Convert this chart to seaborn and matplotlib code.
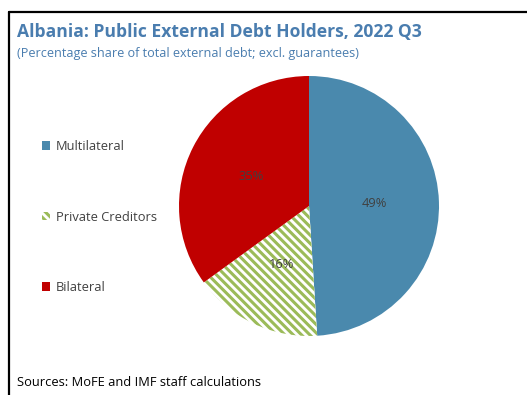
"""Albania public external debt holders, 2022 Q3 - pie chart."""

import matplotlib
matplotlib.use("Agg")
import matplotlib.pyplot as plt
import seaborn as sns
from matplotlib.lines import Line2D

# data
holders = ["Multilateral", "Private Creditors", "Bilateral"]
shares = [49, 16, 35]
colors = ["#4A89AD", "#FFFFFF", "#C00000"]

title = "Albania: Public External Debt Holders, 2022 Q3"
subtitle = "(Percentage share of total external debt; excl. guarantees)"
source = "Sources: MoFE and IMF staff calculations"

sns.set_theme(style="white")
plt.rcParams["font.family"] = ["Open Sans", "DejaVu Sans"]
plt.rcParams["hatch.linewidth"] = 2.2

W, H = 527, 395
fig = plt.figure(figsize=(W / 100, H / 100), dpi=100)
fig.patch.set_facecolor("white")

# pie centred at (309, 206) px with radius 130 px
cx, cy, r = 309, 206, 130
ax = fig.add_axes([(cx - r) / W, (H - cy - r) / H, 2 * r / W, 2 * r / H])
wedges, _, autotexts = ax.pie(
    shares, colors=colors, startangle=90, counterclock=False,
    autopct="%1.0f%%", pctdistance=0.5,
    wedgeprops=dict(linewidth=0),
    textprops=dict(color="#404040", fontsize=9.3),
)
wedges[1].set_hatch(r"\\\\")
wedges[1].set_edgecolor("#9BBB59")
ax.set_xlim(-1, 1)
ax.set_ylim(-1, 1)
ax.axis("off")

fig.legend(wedges, holders, loc="center left",
           bbox_to_anchor=(42 / W, 1 - 217 / H), frameon=False,
           fontsize=9.3, labelcolor="#404040", handlelength=0.65,
           handleheight=0.65, handletextpad=0.4, labelspacing=4.45,
           borderpad=0, borderaxespad=0)

# frame lines (top and left)
fig.add_artist(Line2D([9 / W, 1], [1 - 12 / H, 1 - 12 / H],
                      transform=fig.transFigure, color="black", lw=1.6))
fig.add_artist(Line2D([9 / W, 9 / W], [0, 1 - 12 / H],
                      transform=fig.transFigure, color="black", lw=1.6))

fig.text(17 / W, 1 - 32 / H, title, fontsize=12.6, fontweight="bold",
         color="#4A7DAF", va="center", ha="left")
fig.text(17 / W, 1 - 53 / H, subtitle, fontsize=9.1,
         color="#4A7DAF", va="center", ha="left")
fig.text(17 / W, 1 - 383 / H, source, fontsize=9.3,
         color="black", va="center", ha="left")

fig.savefig("out.png", dpi=100)
